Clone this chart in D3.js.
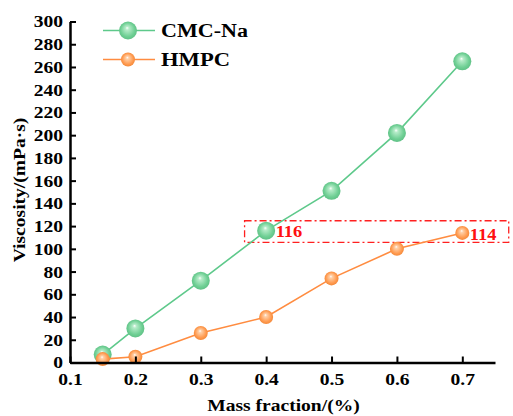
<!doctype html>
<html>
<head>
<meta charset="utf-8">
<script src="https://cdn.jsdelivr.net/npm/d3@7"></script>
<style>
body { margin: 0; background: #fff; }
text { font-family: "Liberation Serif", "Times New Roman", serif; font-weight: bold; }
</style>
</head>
<body>
<script>
// data
var massFraction = [0.15, 0.2, 0.3, 0.4, 0.5, 0.6, 0.7];
var cmcNa = [7, 30, 72, 116, 151, 202, 265];
var hmpc = [3, 5, 26, 40, 74, 100, 114];
var xTicks = [0.1, 0.2, 0.3, 0.4, 0.5, 0.6, 0.7];
var yTicks = d3.range(0, 301, 20);

var W = 513, H = 416;
var margin = {top: 21.5, right: 18, bottom: 53.5, left: 70};
var stretch = "scale(1.15,1)"; // the source font is a bit wider than Liberation Serif

var svg = d3.select("body").append("svg")
    .attr("width", W).attr("height", H);

var x = d3.scaleLinear().domain([0.1, 0.75]).range([margin.left, W - margin.right]);
var y = d3.scaleLinear().domain([0, 300]).range([H - margin.bottom, margin.top]);

// sphere gradients
var defs = svg.append("defs");
function sphere(id, light, mid, dark) {
  var g = defs.append("radialGradient").attr("id", id)
      .attr("cx", "50%").attr("cy", "50%").attr("r", "55%")
      .attr("fx", "45%").attr("fy", "35%");
  g.append("stop").attr("offset", "0%").attr("stop-color", "#ffffff");
  g.append("stop").attr("offset", "18%").attr("stop-color", light);
  g.append("stop").attr("offset", "70%").attr("stop-color", mid);
  g.append("stop").attr("offset", "100%").attr("stop-color", dark);
}
sphere("gGreen", "#b6ecc9", "#6fcf94", "#5bbd82");
sphere("gOrange", "#ffd0a8", "#ff9a4f", "#f08434");

var series = [
  {name: "CMC-Na", values: cmcNa, line: "#5ec98b", fill: "url(#gGreen)", r: 9, len: 87},
  {name: "HMPC", values: hmpc, line: "#ff8c40", fill: "url(#gOrange)", r: 7, len: 69}
];

// helper: text stretched horizontally around its anchor point
function wideText(px, py, str, size, anchor, color) {
  return svg.append("g").attr("transform", "translate(" + px + "," + py + ")")
    .append("text").attr("transform", stretch)
      .attr("text-anchor", anchor || "start")
      .attr("font-size", size)
      .attr("fill", color || "#000")
      .text(str);
}

// annotation box
svg.append("rect")
    .attr("x", x(0.367)).attr("y", y(124.7))
    .attr("width", x(0.771) - x(0.367)).attr("height", y(105.7) - y(124.7))
    .attr("fill", "none").attr("stroke", "#ff2020").attr("stroke-width", 1.3)
    .attr("stroke-dasharray", "7,3,2,3");

series.forEach(function(s) {
  var pts = massFraction.map(function(m, i) { return [m, s.values[i]]; });
  svg.append("path")
      .attr("d", d3.line().x(function(d) { return x(d[0]); }).y(function(d) { return y(d[1]); })(pts))
      .attr("fill", "none").attr("stroke", s.line).attr("stroke-width", 1.6);
  svg.selectAll(null).data(pts).enter().append("circle")
      .attr("cx", function(d) { return x(d[0]); })
      .attr("cy", function(d) { return y(d[1]); })
      .attr("r", s.r)
      .attr("fill", s.fill);
});

// value labels
wideText(x(0.4) + 9.5, y(116) + 6, "116", 16, "start", "#ff1010");
wideText(x(0.7) + 7.5, y(114) + 7, "114", 16, "start", "#ff1010");

// axes
var xAxis = svg.append("g")
    .attr("transform", "translate(0," + (H - margin.bottom) + ")")
    .call(d3.axisBottom(x).tickValues(xTicks).tickFormat(d3.format(".1f")).tickSizeInner(-6).tickSizeOuter(0).tickPadding(10));
var yAxis = svg.append("g")
    .attr("transform", "translate(" + margin.left + ",0)")
    .call(d3.axisLeft(y).tickValues(yTicks).tickSizeInner(-6).tickSizeOuter(0).tickPadding(6));

[xAxis, yAxis].forEach(function(a) {
  a.select(".domain").attr("stroke", "#000").attr("stroke-width", 2.5);
  a.selectAll(".tick line").attr("stroke", "#000").attr("stroke-width", 2);
  a.selectAll(".tick text").attr("fill", "#000").attr("font-size", 17)
      .attr("transform", stretch)
      .style("font-family", "'Liberation Serif', serif").style("font-weight", "bold");
});

// axis titles
wideText((margin.left + W - margin.right) / 2 + 1, 411, "Mass fraction/(%)", 17, "middle");
svg.append("g")
    .attr("transform", "translate(25," + 190 + ") rotate(-90)")
  .append("text").attr("transform", stretch)
    .attr("text-anchor", "middle").attr("font-size", 17).text("Viscosity/(mPa·s)");

// legend
series.forEach(function(s, i) {
  var ly = 30.5 + i * 29;
  svg.append("line").attr("x1", 103).attr("x2", 155).attr("y1", ly).attr("y2", ly)
      .attr("stroke", s.line).attr("stroke-width", 1.6);
  svg.append("circle").attr("cx", 128).attr("cy", ly).attr("r", s.r).attr("fill", s.fill);
  svg.append("text").attr("x", 161).attr("y", ly + 6.5).attr("font-size", 18.5)
      .attr("textLength", s.len).attr("lengthAdjust", "spacingAndGlyphs").text(s.name);
});
</script>
</body>
</html>
